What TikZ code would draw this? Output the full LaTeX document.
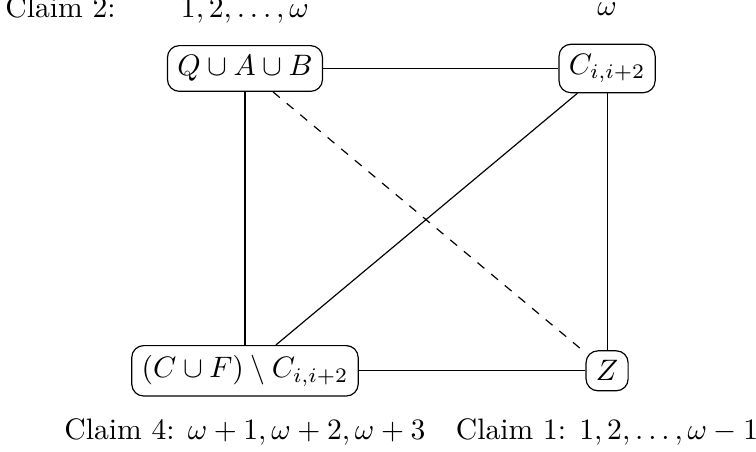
\documentclass[tikz,border=0pt]{standalone}
\usepackage{amsmath,amssymb}
\usetikzlibrary{positioning}
\tikzstyle{setbox} = [rectangle, rounded corners, text centered, draw=black]
\tikzstyle{claim} = [text centered]
\tikzstyle{link} = [thin]
\tikzstyle{guess} = [thin, dashed]

\begin{document}
\begin{tikzpicture}
\useasboundingbox (-2.909,-4.554) rectangle (6.068,0.813);

\node (qab) [setbox] {$Q \cup A \cup B$};

\node (cset) [setbox, right of=qab, xshift=3.3cm] {$C_{i,i+2}$};

\node (cf) [setbox, below of=qab, yshift=-2.59cm] {$(C \cup F) \setminus C_{i,i+2}$};

\node (z) [setbox, right of=cf, xshift=3.3cm] {$Z$};

\node (toptwo) [claim, above of=qab, yshift=-0.31cm] {$1, 2, \ldots, \omega$};
\node (claimtwo) [claim, left of=toptwo, xshift=-1.19cm, yshift=0.03cm] {Claim 2:};
\node (topomega) [claim, above of=cset, yshift=-0.3cm] {$\omega$};
\node (claimfour) [claim, below of=cf, yshift=0.28cm] {Claim 4: $\omega+1, \omega+2, \omega+3$};
\node (claimone) [claim, below of=z, yshift=0.28cm] {Claim 1: $1, 2, \ldots, \omega-1$};

\draw [link] (qab) -- (cset);
\draw [link] (qab) -- (cf);
\draw [link] (cset) -- (z);
\draw [link] (cset) -- (cf);
\draw [link] (cf) -- (z);
\draw [guess] (qab) -- (z);
\end{tikzpicture}
\end{document}
